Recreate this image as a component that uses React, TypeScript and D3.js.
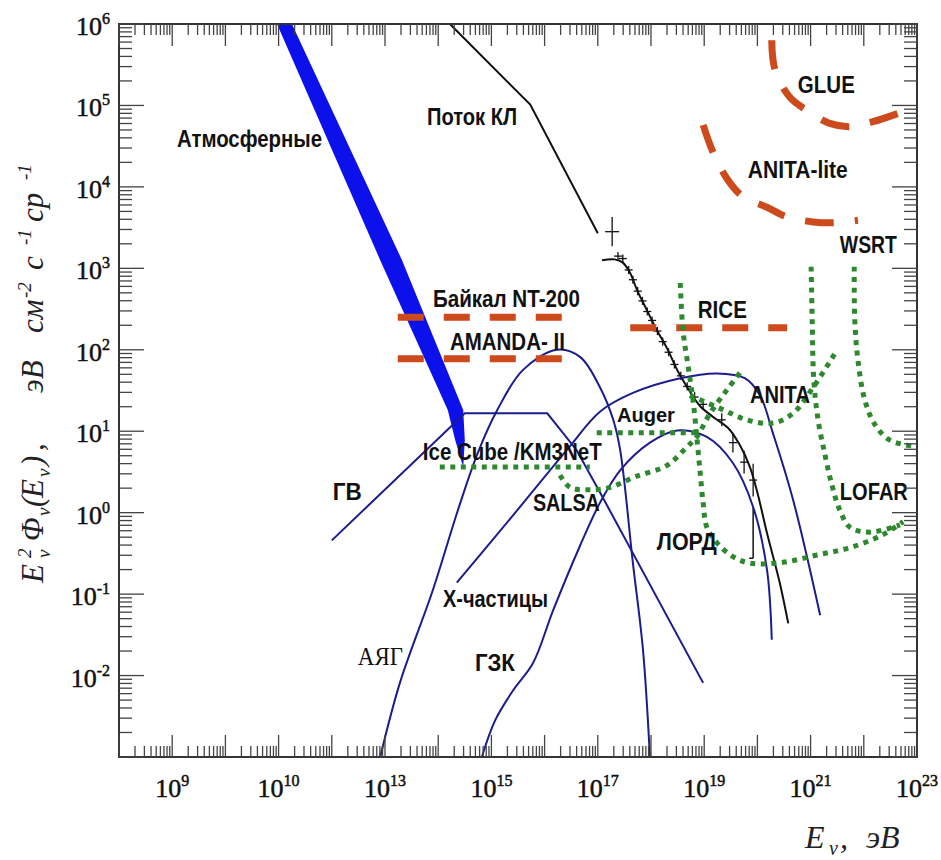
import React from "react";
import * as d3 from "d3";

const W = 941, H = 860;
const PL = 119, PR = 917, PT = 24, PB = 757;

const xExpMin = 8, xExpMax = 23;
const yExpMin = -3, yExpMax = 6;

const xLabelExps = [9, 11, 13, 15, 17, 19, 21, 23];
const xLabelText = ["9", "10", "13", "15", "17", "19", "21", "23"];
const yLabelExps = [-2, -1, 0, 1, 2, 3, 4, 5, 6];
const yLabelText = ["-2", "-1", "0", "1", "2", "3", "4", "5", "6"];

// all points: [log10 E (eV), log10 E^2*Phi]
const atmLow = [[10.97, 6], [12.91, 3.1], [14.18, 1.26], [14.32, 0.89], [14.47, 0.56]];
const atmHigh = [[11.25, 6], [13.32, 3.1], [14.47, 1.26], [14.5, 0.89], [14.47, 0.56]];

const crFluxA = [[14.22, 6], [15.73, 5.01], [17.0, 3.43]];
const crFluxB = [
  [17.08, 3.1], [17.32, 3.11], [17.47, 3.07], [17.61, 2.94], [17.74, 2.73], [17.92, 2.49],
  [18.11, 2.24], [18.3, 2.02], [18.51, 1.73], [18.74, 1.48], [18.92, 1.31], [19.2, 1.16],
  [19.45, 1.04], [19.67, 0.83], [19.86, 0.56], [20.01, 0.22], [20.18, -0.25], [20.42, -0.86], [20.58, -1.36],
];
// measured points: [logE, logF, error]
const crPoints = [
  [17.27, 3.45, 0.18],
  [17.38, 3.15, 0.05], [17.47, 3.12, 0.05], [17.58, 2.98, 0.05], [17.66, 2.86, 0.05],
  [17.75, 2.72, 0.05], [17.84, 2.6, 0.05], [17.93, 2.47, 0.05], [18.02, 2.36, 0.05],
  [18.12, 2.23, 0.05], [18.22, 2.1, 0.05], [18.33, 1.97, 0.05], [18.44, 1.82, 0.05],
  [18.56, 1.68, 0.05], [18.68, 1.55, 0.05], [18.82, 1.42, 0.06], [18.98, 1.33, 0.06],
  [19.33, 1.14, 0.08], [19.54, 0.86, 0.12], [19.75, 0.62, 0.14], [19.92, 0.4, 0.2],
];
const crLimit = [[19.92, 0.07], [19.92, -0.56]];

const grbFlux = [[12.0, -0.34], [14.5, 1.22], [16.05, 1.22], [16.6, 0.77], [17.04, 0.25], [18.98, -2.09]];
const agnFlux = [
  [12.91, -3.0], [13.28, -2.09], [13.9, -0.95], [14.37, 0.03], [14.73, 0.71], [15.11, 1.26],
  [15.59, 1.75], [16.23, 2.0], [16.67, 1.91], [17.04, 1.54], [17.29, 1.14], [17.42, 0.77],
  [17.66, -0.62], [17.85, -1.69], [17.98, -3.0],
];
const xParticleFlux = [
  [14.35, -0.86], [15.41, -0.03], [16.42, 0.77], [17.04, 1.24], [17.66, 1.47], [18.55, 1.65],
  [19.24, 1.71], [19.77, 1.65], [20.05, 1.44], [20.29, 0.98], [20.67, 0.16], [21.18, -1.26],
];
const gzkFlux = [
  [14.82, -3.0], [15.07, -2.55], [15.41, -2.18], [15.78, -1.85], [16.16, -1.2], [16.67, -0.4],
  [17.04, 0.12], [17.42, 0.52], [17.98, 0.86], [18.49, 1.01], [19.05, 0.93], [19.54, 0.61],
  [19.92, 0.07], [20.18, -0.7], [20.27, -1.56],
];

// limits (dashed)
const baikal = [[13.24, 2.4], [16.33, 2.4]];
const amanda = [[13.24, 1.89], [16.33, 1.89]];
const rice = [[17.61, 2.27], [20.56, 2.27]];
const glue = [[20.27, 5.8], [20.33, 5.44], [20.61, 5.1], [20.93, 4.94], [21.36, 4.78], [21.74, 4.74], [22.17, 4.8], [22.68, 4.91]];
const anitaLite = [[18.98, 4.76], [19.17, 4.42], [19.45, 4.08], [19.73, 3.88], [20.18, 3.75], [20.56, 3.63], [21.05, 3.57], [21.42, 3.56], [21.89, 3.59]];

// sensitivities (dotted)
const iceCube = [[14.03, 0.56], [16.85, 0.56]];
const auger = [[16.98, 0.98], [18.86, 0.98]];
const salsa = [[16.29, 0.46], [16.48, 0.31], [16.85, 0.28], [17.23, 0.31], [17.7, 0.44], [18.3, 0.58], [18.68, 0.81], [18.86, 0.93], [19.11, 1.22], [19.43, 1.51], [19.71, 1.75]];
const lord = [[18.55, 2.82], [18.6, 2.24], [18.7, 1.79], [18.79, 1.38], [18.86, 0.93], [18.92, 0.52], [18.98, 0.12], [19.05, -0.18], [19.24, -0.37], [19.54, -0.54], [19.86, -0.62], [20.48, -0.61], [21.12, -0.52], [21.74, -0.43], [22.36, -0.27], [22.74, -0.11]];
const anita = [[18.73, 1.44], [19.3, 1.28], [19.8, 1.14], [20.29, 1.1], [20.67, 1.22], [21.05, 1.54], [21.5, 2.0]];
const lofar = [[21.01, 3.02], [21.03, 2.37], [21.06, 1.63], [21.14, 1.14], [21.27, 0.71], [21.4, 0.34], [21.55, 0.03], [21.74, -0.18], [22.12, -0.24], [22.68, -0.15]];
const wsrt = [[21.82, 3.02], [21.83, 2.37], [21.89, 1.87], [22.02, 1.38], [22.21, 1.08], [22.49, 0.89], [23.0, 0.81]];

const labelText = ["Атмосферные", "Поток КЛ", "GLUE", "ANITA-lite", "WSRT", "Байкал NT-200", "AMANDA- II", "RICE", "ANITA", "Auger", "Ice Cube /KM3NeT", "ГВ", "SALSA", "ЛОРД", "LOFAR", "X-частицы", "ГЗК"];
const labelAt = [[9.09, 4.49], [13.79, 4.76], [20.76, 5.15], [19.82, 4.11], [21.55, 3.19], [13.9, 2.53], [14.22, 2.0], [18.88, 2.39], [19.86, 1.35], [17.36, 1.11], [13.71, 0.65], [12.02, 0.16], [15.78, 0.02], [18.11, -0.46], [21.55, 0.16], [14.09, -1.16], [14.69, -1.94]];
const labelWidth = [145, 90, 57, 100, 57, 147, 115, 49, 60, 58, 179, 29, 67, 60, 68, 105, 40];
const agnLabel = { t: "АЯГ", at: [12.49, -1.87] };

const BLUE = "#1c1c8e";
const ORANGE = "#cc4a1c";
const GREEN = "#2e892e";

export default function App() {
  const x = d3.scaleLog().domain([10 ** xExpMin, 10 ** xExpMax]).range([PL, PR]);
  const y = d3.scaleLog().domain([10 ** yExpMin, 10 ** yExpMax]).range([PB, PT]);
  const px = (d: number[]) => x(10 ** d[0]);
  const py = (d: number[]) => y(10 ** d[1]);
  const smooth = d3.line<number[]>().x(px).y(py).curve(d3.curveCatmullRom.alpha(0.5));
  const straight = d3.line<number[]>().x(px).y(py);

  const band = straight([...atmLow, ...atmHigh.slice().reverse()]) + "Z";

  const xTicks: { v: number; major: boolean }[] = [];
  for (let e = xExpMin; e < xExpMax; e++) for (let k = 1; k < 10; k++) xTicks.push({ v: k * 10 ** e, major: k === 1 });
  xTicks.push({ v: 10 ** xExpMax, major: true });
  const yTicks: { v: number; major: boolean }[] = [];
  for (let e = yExpMin; e < yExpMax; e++) for (let k = 1; k < 10; k++) yTicks.push({ v: k * 10 ** e, major: k === 1 });
  yTicks.push({ v: 10 ** yExpMax, major: true });

  const serif = "'Liberation Serif', 'Times New Roman', serif";
  const sans = "'Liberation Sans', Arial, sans-serif";

  const dashed = { fill: "none", stroke: ORANGE, strokeWidth: 7, strokeDasharray: "26,20" };
  const dashedC = { fill: "none", stroke: ORANGE, strokeWidth: 7, strokeDasharray: "29,21" };
  const dotted = { fill: "none", stroke: GREEN, strokeWidth: 5, strokeDasharray: "5,5.5" };
  const thin = { fill: "none", stroke: BLUE, strokeWidth: 2 };

  const yTitle: [string, number, number, number][] = [
    ["E", 5, 0, 31], ["2", 30, -12, 19], ["ν", 30, 7, 19], ["Φ", 47, 0, 31], ["ν", 72, 7, 19],
    ["(", 81, 0, 31], ["E", 90, 0, 31], ["ν", 111, 7, 19], [")", 122, 0, 31], [",", 137, 0, 31],
    ["эВ", 195, 0, 31], ["см", 255, 0, 31], ["-2", 290, -12, 19], ["с", 318, 0, 31], ["-1", 343, -12, 19],
    ["ср", 366, 0, 31], ["-1", 408, -12, 19],
  ];

  return (
    <svg width={W} height={H} style={{ display: "block", position: "absolute", left: 0, top: 0, background: "#fff" }}>
      <rect width={W} height={H} fill="#fff" />
      {/* atmospheric band */}
      <path d={band} fill="#0c10ea" />
      {/* cosmic ray flux */}
      <path d={straight(crFluxA)!} fill="none" stroke="#111" strokeWidth={2} />
      <path d={smooth(crFluxB)!} fill="none" stroke="#111" strokeWidth={2} />
      {crPoints.map((d, i) => {
        const cx = px(d), cy = py(d);
        const hw = i === 0 ? 7 : 4;
        return (
          <g key={i} stroke="#111" strokeWidth={1.3}>
            <line x1={cx - hw} x2={cx + hw} y1={cy} y2={cy} />
            <line x1={cx} x2={cx} y1={y(10 ** (d[1] + d[2]))} y2={y(10 ** (d[1] - d[2]))} />
          </g>
        );
      })}
      <g stroke="#111" strokeWidth={1.5}>
        <line x1={px(crLimit[0])} x2={px(crLimit[1])} y1={py(crLimit[0])} y2={py(crLimit[1])} />
        <line x1={px(crLimit[1]) - 4} x2={px(crLimit[1])} y1={py(crLimit[1])} y2={py(crLimit[1])} />
      </g>
      {/* model fluxes */}
      <path d={straight(grbFlux)!} {...thin} />
      <path d={smooth(agnFlux)!} {...thin} />
      <path d={smooth(xParticleFlux)!} {...thin} />
      <path d={smooth(gzkFlux)!} {...thin} />
      {/* limits */}
      <path d={straight(baikal)!} {...dashed} />
      <path d={straight(amanda)!} {...dashed} />
      <path d={straight(rice)!} {...dashed} />
      <path d={smooth(glue)!} {...dashedC} />
      <path d={smooth(anitaLite)!} {...dashedC} />
      {/* sensitivities */}
      <path d={straight(iceCube)!} {...dotted} />
      <path d={straight(auger)!} {...dotted} />
      <path d={smooth(salsa)!} {...dotted} />
      <path d={smooth(lord)!} {...dotted} />
      <path d={smooth(anita)!} {...dotted} />
      <path d={smooth(lofar)!} {...dotted} />
      <path d={smooth(wsrt)!} {...dotted} />

      {/* labels */}
      {labelText.map((t, i) => (
        <text key={t} x={px(labelAt[i])} y={py(labelAt[i])} fontFamily={sans} fontWeight="bold"
          fontSize={t === "Auger" ? 20 : 24} textLength={labelWidth[i]} lengthAdjust="spacingAndGlyphs" fill="#111">
          {t}
        </text>
      ))}
      <text x={px(agnLabel.at)} y={py(agnLabel.at)} fontFamily={serif} fontSize={26} textLength={45}
        lengthAdjust="spacingAndGlyphs" fill="#111">{agnLabel.t}</text>

      {/* frame */}
      <rect x={PL} y={PT} width={PR - PL} height={PB - PT} fill="none" stroke="#333" strokeWidth={2} />
      <g stroke="#444" strokeWidth={1.3}>
        {xTicks.map((t, i) => {
          const xx = x(t.v); const len = t.major ? 22 : 11;
          return (
            <g key={"x" + i}>
              <line x1={xx} x2={xx} y1={PB} y2={PB - len} />
              <line x1={xx} x2={xx} y1={PT} y2={PT + len} />
            </g>
          );
        })}
        {yTicks.map((t, i) => {
          const yy = y(t.v); const len = t.major ? 25 : 13;
          return (
            <g key={"y" + i}>
              <line x1={PL} x2={PL + len} y1={yy} y2={yy} />
              <line x1={PR} x2={PR - len} y1={yy} y2={yy} />
            </g>
          );
        })}
      </g>
      {/* tick labels */}
      {yLabelExps.map((e, i) => (
        <text key={"yl" + e} x={110} y={y(10 ** e) + 11} textAnchor="end" fontFamily={serif} fontSize={26}
          fill="#111" stroke="#111" strokeWidth={0.5}>
          10<tspan dy={-11} fontSize={16}>{yLabelText[i]}</tspan>
        </text>
      ))}
      {xLabelExps.map((e, i) => (
        <text key={"xl" + e} x={x(10 ** e)} y={797} textAnchor="middle" fontFamily={serif} fontSize={26}
          fill="#111" stroke="#111" strokeWidth={0.5}>
          10<tspan dy={-11} fontSize={16}>{xLabelText[i]}</tspan>
        </text>
      ))}
      {/* axis titles */}
      <g transform="translate(43,588) rotate(-90)" fontFamily={serif} fontStyle="italic" fill="#222">
        {yTitle.map(([t, o, dy, s], i) => (
          <text key={"yt" + i} x={o} y={dy} fontSize={s}>{t}</text>
        ))}
      </g>
      <g fontFamily={serif} fontStyle="italic" fill="#222">
        <text x={805} y={848} fontSize={32}>E</text>
        <text x={829} y={855} fontSize={20}>ν</text>
        <text x={840} y={848} fontSize={32}>,</text>
        <text x={866} y={848} fontSize={32}>эВ</text>
      </g>
    </svg>
  );
}
